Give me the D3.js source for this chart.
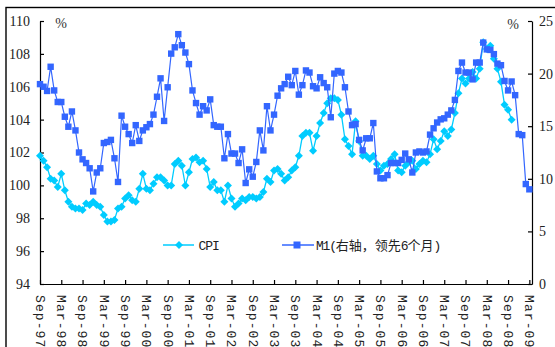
<!DOCTYPE html>
<html>
<head>
<meta charset="utf-8">
<script src="https://cdn.jsdelivr.net/npm/d3@7"></script>
<style>
  html, body { margin: 0; padding: 0; background: #fff; }
  svg { display: block; }
</style>
</head>
<body>
<svg id="chart" width="555" height="347"></svg>
<script>
// ---------------- DATA ----------------
// x tick labels, one every 6 months starting Sep-97
const tickLabels = ["Sep-97","Mar-98","Sep-98","Mar-99","Sep-99","Mar-00","Sep-00","Mar-01",
  "Sep-01","Mar-02","Sep-02","Mar-03","Sep-03","Mar-04","Sep-04","Mar-05","Sep-05","Mar-06",
  "Sep-06","Mar-07","Sep-07","Mar-08","Sep-08","Mar-09"];

// CPI (previous year = 100), monthly from Sep-97 to Oct-08
const cpi = [
  101.8, 101.5, 101.1, 100.4,
  100.3, 99.9, 100.7, 99.7, 99.0, 98.7, 98.6, 98.6, 98.5, 98.9, 98.8, 99.0,
  98.8, 98.7, 98.2, 97.8, 97.8, 97.9, 98.6, 98.7, 99.2, 99.4, 99.1, 99.0,
  99.8, 100.7, 99.8, 99.7, 100.1, 100.5, 100.5, 100.3, 100.0, 100.0, 101.3, 101.5,
  101.2, 100.0, 100.8, 101.6, 101.7, 101.4, 101.5, 101.0, 99.9, 100.2, 99.7, 99.7,
  99.0, 100.0, 99.2, 98.7, 98.9, 99.2, 99.1, 99.3, 99.3, 99.2, 99.3, 99.6,
  100.4, 100.2, 100.9, 101.0, 100.7, 100.3, 100.5, 100.9, 101.1, 101.8, 103.0, 103.2,
  103.2, 102.1, 103.0, 103.8, 104.4, 105.0, 105.3, 105.3, 105.2, 104.3, 102.8, 102.4,
  101.9, 103.9, 102.7, 101.8, 101.8, 101.6, 101.8, 101.3, 100.9, 101.2, 101.3, 101.6,
  101.9, 100.9, 100.8, 101.2, 101.4, 101.5, 101.0, 101.3, 101.5, 101.4, 101.9, 102.8,
  102.2, 102.7, 103.3, 103.0, 103.4, 104.4, 105.6, 106.5, 106.2, 106.5, 106.9, 106.5,
  107.1, 108.7, 108.3, 108.5, 107.7, 107.1, 106.3, 104.9, 104.6, 104.0
];

// M1 growth % (right axis), shifted 6 months ahead, plotted monthly Sep-97 to Mar-09
const m1 = [
  19.0, 18.75, 18.35, 20.65, 18.4, 17.3, 17.3, 15.9, 14.95, 16.4, 14.6, 12.5,
  11.85, 11.5, 11.0, 8.8, 10.6, 11.0, 13.4, 13.5, 13.7, 11.95, 9.7, 16.0,
  14.95, 14.25, 13.4, 15.1, 13.6, 14.6, 14.9, 15.2, 16.1, 17.8, 19.55, 15.5,
  18.7, 21.9, 22.5, 23.75, 22.7, 22.0, 20.9, 18.4, 17.2, 16.1, 16.9, 16.5,
  17.55, 15.1, 14.95, 14.95, 11.95, 14.25, 12.4, 12.4, 11.5, 12.8, 9.6, 10.9,
  10.2, 11.6, 14.6, 12.7, 16.9, 14.6, 16.1, 17.9, 18.6, 19.0, 19.7, 18.9,
  20.25, 18.0, 18.9, 20.3, 20.1, 18.8, 18.6, 19.65, 19.1, 18.7, 15.85, 20.0,
  20.25, 20.1, 18.7, 16.4, 15.1, 15.2, 13.7, 12.7, 13.85, 13.85, 15.3, 10.7,
  10.05, 10.05, 10.35, 11.5, 11.5, 11.5, 11.8, 12.4, 11.85, 10.6, 12.5, 12.6,
  12.5, 12.6, 14.2, 14.8, 15.35, 15.65, 15.75, 16.1, 16.5, 17.5, 20.25, 21.05,
  20.1, 20.1, 19.45, 21.05, 21.05, 22.95, 22.3, 22.25, 21.85, 20.95, 20.8, 19.3,
  18.4, 19.25, 17.95, 14.25, 14.15, 9.5, 9.0
];

const leftTicks = [94, 96, 98, 100, 102, 104, 106, 108, 110];
const rightTicks = [0, 5, 10, 15, 20, 25];
const seriesNames = ["CPI", "M1(右轴，领先6个月)"];

// ---------------- LAYOUT ----------------
const plot = { left: 40, right: 532, top: 21, bottom: 284 };
const cpiColor = "#00CCFF";
const m1Color = "#3366FF";
const serif = "'Liberation Serif', 'Times New Roman', serif";
const mono = "'Liberation Mono', 'Courier New', monospace";

const svg = d3.select("#chart");

// outer frame
svg.append("rect")
  .attr("x", 6).attr("y", 7.5)
  .attr("width", 620).attr("height", 400)
  .attr("fill", "none").attr("stroke", "#000").attr("stroke-width", 1.4);

const x = d3.scaleLinear().domain([0, 138.75]).range([plot.left, plot.right]);
const yL = d3.scaleLinear().domain([94, 110]).range([plot.bottom, plot.top]);
const yR = d3.scaleLinear().domain([0, 25]).range([plot.bottom, plot.top]);

// axes
const axL = svg.append("g").attr("transform", `translate(${plot.left},0)`)
  .call(d3.axisLeft(yL).tickValues(leftTicks).tickSizeInner(-4).tickSizeOuter(0).tickPadding(10));
const axR = svg.append("g").attr("transform", `translate(${plot.right},0)`)
  .call(d3.axisRight(yR).tickValues(rightTicks).tickSizeInner(-4).tickSizeOuter(0).tickPadding(7));
const axB = svg.append("g").attr("transform", `translate(0,${plot.bottom})`)
  .call(d3.axisBottom(x).tickValues(d3.range(0, 139, 6)).tickSizeInner(-4).tickSizeOuter(0)
    .tickFormat((d, i) => tickLabels[i]));

[axL, axR, axB].forEach(g => {
  g.select(".domain").attr("stroke", "#000").attr("stroke-width", 1.2);
  g.selectAll(".tick line").attr("stroke", "#000").attr("stroke-width", 1.2);
  g.selectAll("text").attr("fill", "#222");
});
axL.selectAll("text").attr("font-family", serif).attr("font-size", 14);
axR.selectAll("text").attr("font-family", serif).attr("font-size", 14);
axB.selectAll("text")
  .attr("font-family", mono).attr("font-size", 13)
  .attr("letter-spacing", 1.1)
  .attr("text-anchor", "start")
  .attr("transform", "rotate(90)")
  .attr("x", 11).attr("y", 0).attr("dy", "0.35em");

// % labels
svg.append("text").attr("x", 61).attr("y", 28).attr("text-anchor", "middle")
  .attr("font-family", serif).attr("font-size", 14).attr("fill", "#333").text("%");
svg.append("text").attr("x", 513).attr("y", 29).attr("text-anchor", "middle")
  .attr("font-family", serif).attr("font-size", 14).attr("fill", "#333").text("%");

const diamond = r => `M0,${-r}L${r},0L0,${r}L${-r},0Z`;

// CPI series
const cpiData = cpi.map((v, i) => [i, v]);
svg.append("path").datum(cpiData)
  .attr("fill", "none").attr("stroke", cpiColor).attr("stroke-width", 1.3)
  .attr("d", d3.line().x(d => x(d[0])).y(d => yL(d[1])));
svg.append("g").selectAll("path").data(cpiData).join("path")
  .attr("transform", d => `translate(${x(d[0])},${yL(d[1])})`)
  .attr("d", diamond(4)).attr("fill", cpiColor);

// M1 series
const m1Data = m1.map((v, i) => [i, v]);
svg.append("path").datum(m1Data)
  .attr("fill", "none").attr("stroke", m1Color).attr("stroke-width", 1.2)
  .attr("d", d3.line().x(d => x(d[0])).y(d => yR(d[1])));
const sq = 6.4;
svg.append("g").selectAll("rect").data(m1Data).join("rect")
  .attr("x", d => x(d[0]) - sq / 2).attr("y", d => yR(d[1]) - sq / 2)
  .attr("width", sq).attr("height", sq).attr("fill", m1Color);

// legend
const lgY = 245;
svg.append("line").attr("x1", 163).attr("x2", 194).attr("y1", lgY).attr("y2", lgY)
  .attr("stroke", cpiColor).attr("stroke-width", 1.5);
svg.append("path").attr("transform", `translate(179,${lgY})`).attr("d", diamond(4)).attr("fill", cpiColor);
svg.append("text").attr("x", 198.5).attr("y", lgY).attr("dy", "0.36em")
  .attr("font-family", mono).attr("font-size", 13).attr("letter-spacing", -1.1)
  .attr("fill", "#222").text(seriesNames[0]);

svg.append("line").attr("x1", 282).attr("x2", 314).attr("y1", lgY).attr("y2", lgY)
  .attr("stroke", m1Color).attr("stroke-width", 1.5);
svg.append("rect").attr("x", 297 - 3.5).attr("y", lgY - 3.5).attr("width", 7).attr("height", 7).attr("fill", m1Color);
const lt = svg.append("text").attr("x", 316).attr("y", lgY).attr("dy", "0.36em")
  .attr("font-size", 13).attr("fill", "#222");
// split label into latin / CJK runs
const runs = seriesNames[1].match(/[\x00-\x7F]+|[^\x00-\x7F]+/g);
runs.forEach(r => {
  const ascii = /^[\x00-\x7F]+$/.test(r);
  lt.append("tspan").text(r)
    .attr("font-family", ascii ? mono : "'Noto Sans CJK SC', sans-serif")
    .attr("letter-spacing", ascii ? -1.2 : 0);
});
</script>
</body>
</html>
